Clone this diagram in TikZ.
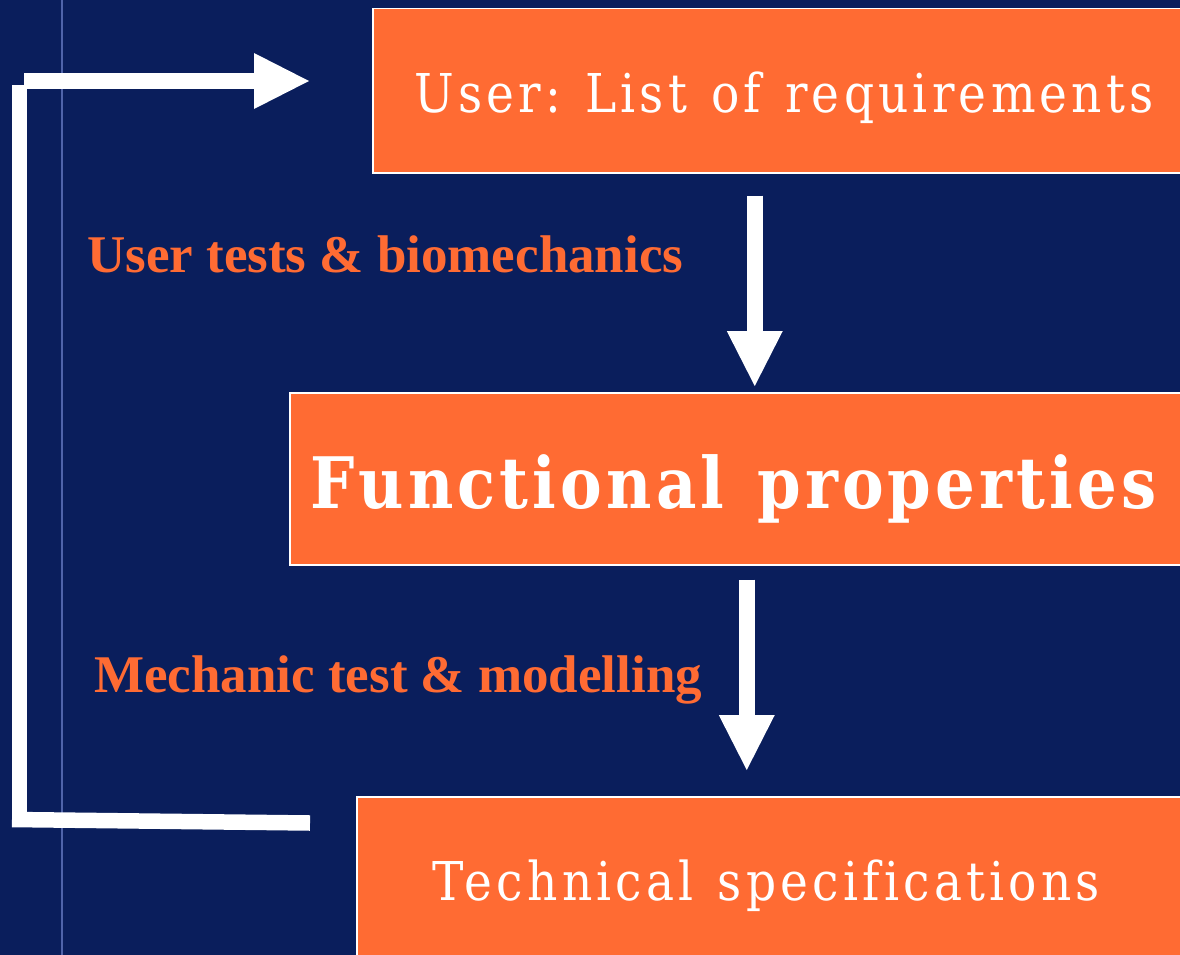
\documentclass[tikz,border=0pt]{standalone}
\usepackage{fontspec}
\usetikzlibrary{arrows.meta}
\setmainfont{Liberation Serif}
\newfontfamily\boxfont[FakeStretch=0.88, LetterSpace=7.9, WordSpace=1.25, Ligatures=NoCommon, BoldFeatures={LetterSpace=5.9}]{DejaVu Serif}
\definecolor{navy}{RGB}{10,30,92}
\definecolor{orng}{RGB}{255,107,51}
\definecolor{guide}{RGB}{80,100,170}
\tikzset{
  box/.style={draw=white, line width=1.5pt, fill=orng, rectangle, inner sep=0pt, anchor=north west},
  wtext/.style={text=white, inner sep=0pt, anchor=base, font=\frenchspacing\boxfont\fontsize{53.5}{60}\selectfont},
  btext/.style={text=white, inner sep=0pt, anchor=base, font=\frenchspacing\boxfont\bfseries\fontsize{71}{80}\selectfont},
  otext/.style={text=orng, inner sep=0pt, anchor=base west, font=\bfseries\fontsize{53}{60}\selectfont},
  bigarrow/.style={draw=white, line width=16pt, -{Triangle[length=55pt,width=56pt,line width=0pt]}},
  thickline/.style={draw=white, line width=15.5pt}
}
\begin{document}
\begin{tikzpicture}[x=1pt,y=-1pt]
\useasboundingbox (0,0) rectangle (1180,955);
\clip (0,0) rectangle (1180,955);
\fill[navy] (0,0) rectangle (1180,955);
\draw[guide, line width=2pt] (62,0) -- (62,955);
% boxes
\node[box, minimum width=828pt, minimum height=164pt] (box1) at (372,8) {};
\node[box, minimum width=911pt, minimum height=172pt] (box2) at (289,392) {};
\node[box, minimum width=844pt, minimum height=200pt] (box3) at (356,796) {};
% box texts
\node[wtext] (t1) at (784,113) {User: List of requirements};
\node[btext] (t2) at (734,508) {Functional properties};
\node[wtext] (t3) at (766.5,900) {Technical specifications};
% labels
\node[otext] (l1) at (87,272) {User tests \& biomechanics};
\node[otext] (l2) at (94,692) {Mechanic test \& modelling};
% down arrows
\draw[bigarrow] ([xshift=-32pt,yshift=-22pt]box1.south) -- ([xshift=9.5pt,yshift=6pt]box2.north);
\draw[bigarrow] ([xshift=1.5pt,yshift=-14pt]box2.south) -- ([xshift=-32pt,yshift=26pt]box3.north);
% feedback loop
\coordinate (fbA) at (310,823);
\coordinate (fbB) at (12,819.5);
\coordinate (fbC) at (19.5,827);
\coordinate (fbD) at (19.5,85);
\coordinate (fbE) at (24,81);
\coordinate (fbF) at (309,81);
\draw[thickline] (fbA) -- (fbB);
\draw[thickline] (fbC) -- (fbD);
\draw[bigarrow] (fbE) -- (fbF);
\end{tikzpicture}
\end{document}
